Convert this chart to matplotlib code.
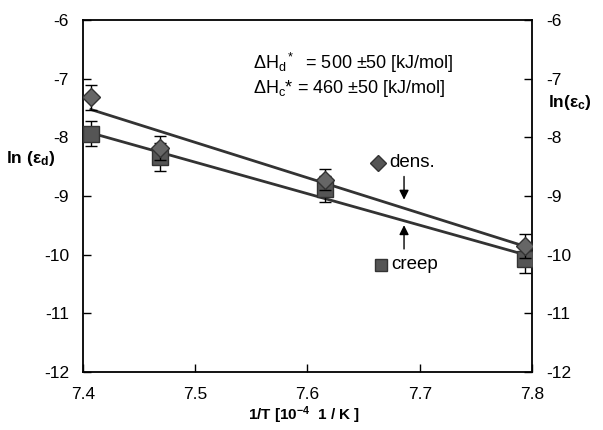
import numpy as np
import matplotlib
matplotlib.use("Agg")
import matplotlib.pyplot as plt

plt.rcParams['font.family'] = ['Liberation Sans', 'DejaVu Sans']
plt.rcParams['mathtext.fontset'] = 'custom'
plt.rcParams['mathtext.rm'] = 'Liberation Sans'
plt.rcParams['mathtext.it'] = 'Liberation Sans:italic'
plt.rcParams['mathtext.bf'] = 'Liberation Sans:bold'

inv_T = [7.407, 7.469, 7.616, 7.794]
ln_dens = [-7.32, -8.18, -8.72, -9.85]
ln_creep = [-7.94, -8.33, -8.88, -10.08]
err_dens = [0.21, 0.21, 0.18, 0.21]
err_creep = [0.21, 0.24, 0.22, 0.24]

x_ticks = [7.4, 7.5, 7.6, 7.7, 7.8]
y_ticks = [-12, -11, -10, -9, -8, -7, -6]

fig = plt.figure(figsize=(6.03, 4.30), dpi=100)
ax = fig.add_axes([83/603, 1-372/430, (532-83)/603, (372-20)/430])

x = np.array(inv_T)
xl = np.array([x.min(), x.max()])
pd_ = np.polyfit(x, ln_dens, 1)
pc_ = np.polyfit(x, ln_creep, 1)
ax.plot(xl, np.polyval(pd_, xl), color='#333333', lw=2, zorder=2)
ax.plot(xl, np.polyval(pc_, xl), color='#333333', lw=2, zorder=2)

ax.errorbar(inv_T, ln_creep, yerr=err_creep, fmt='s', ms=12, mfc='#555555',
            mec='#333333', mew=1, ecolor='black', elinewidth=1, capsize=4, zorder=3)
ax.errorbar(inv_T, ln_dens, yerr=err_dens, fmt='D', ms=9, mfc='#666666',
            mec='#333333', mew=1, ecolor='black', elinewidth=1, capsize=4, zorder=4)

ax.set_xlim(7.4, 7.8)
ax.set_ylim(-12, -6)
ax.set_xticks(x_ticks)
ax.set_xticklabels([f"{v:.1f}" for v in x_ticks])
ax.set_yticks(y_ticks)
ax.set_yticklabels([f"{v}" for v in y_ticks])
ax.tick_params(direction='in', length=6, width=1, labelsize=12.5, right=True,
               labelright=True, pad=10)
ax.tick_params(axis='x', pad=11)
for s in ax.spines.values():
    s.set_linewidth(1.3)

fig.text(304/603, 1-415/430, r'1/T [10$^{\mathbf{-4}}$  1 / K ]', fontsize=11,
         fontweight='bold', ha='center', va='center')
fig.text(31/603, 1-158/430, r'ln ($\mathbf{\varepsilon_d}$)', fontsize=12.5,
         fontweight='bold', ha='center', va='center')
fig.text(570/603, 1-103/430, r'ln($\mathbf{\varepsilon_c}$)', fontsize=12.5,
         fontweight='bold', ha='center', va='center')

ax.text(7.5515, -6.73, r'$\Delta$H$_\mathrm{d}$$^*$  = 500 ±50 [kJ/mol]', fontsize=13, va='center')
ax.text(7.5515, -7.17, r'$\Delta$H$_\mathrm{c}$* = 460 ±50 [kJ/mol]', fontsize=13, va='center')

ax.plot([7.6628], [-8.437], 'D', ms=8, mfc='#555555', mec='#333333')
ax.text(7.6726, -8.437, 'dens.', fontsize=13.5, va='center')
ax.plot([7.6655], [-10.176], 's', ms=9, mfc='#555555', mec='#333333')
ax.text(7.6744, -10.176, 'creep', fontsize=13.5, va='center')

ax.annotate('', xy=(7.686, -9.11), xytext=(7.686, -8.62),
            arrowprops=dict(arrowstyle='-|>', color='black', lw=1, mutation_scale=14))
ax.annotate('', xy=(7.686, -9.45), xytext=(7.686, -9.95),
            arrowprops=dict(arrowstyle='-|>', color='black', lw=1, mutation_scale=14))

fig.savefig('out.png', dpi=100)
